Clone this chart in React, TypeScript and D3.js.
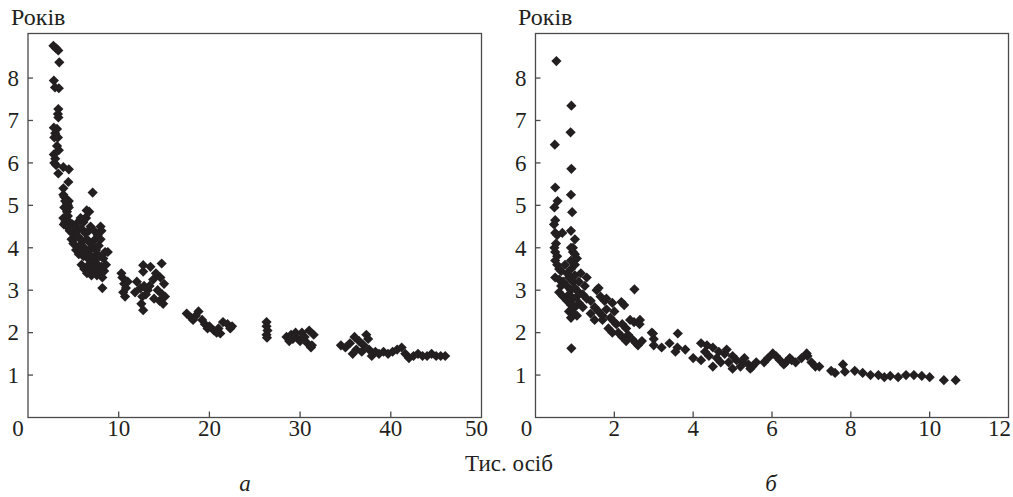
import React from "react";
import * as d3 from "d3";

// Panel а: population (thous.) vs years
const panelA: [number, number][] = [
  [2.8, 8.76], [3.34, 8.65], [3.1, 8.7], [3.45, 8.37], [2.85, 7.94], [2.98, 7.78], [3.4, 7.76],
  [3.34, 7.27], [3.3, 7.15], [3.35, 7.07], [2.85, 6.83], [3.2, 6.8], [3.0, 6.7], [3.3, 6.6], [2.9, 6.6],
  [3.2, 6.4], [3.4, 6.3], [2.85, 6.2], [3.0, 6.1], [2.9, 6.0], [3.1, 5.95], [3.34, 5.75], [3.9, 5.9], [4.5, 5.85],
  [4.45, 5.55], [3.9, 5.4], [4.0, 5.2], [4.2, 5.1], [4.4, 5.0], [4.1, 4.95], [4.3, 4.85], [4.5, 5.1],
  [3.9, 4.7], [3.95, 4.55], [7.13, 5.3], [6.75, 4.85], [6.4, 4.7], [6.47, 4.88],
  [3.9, 5.25], [4.1, 5.1], [4.3, 5.05], [4.0, 4.95], [4.5, 4.95], [4.4, 4.75], [4.1, 4.6], [4.6, 4.6],
  [4.9, 4.55], [4.3, 4.5], [4.7, 4.4], [5.0, 4.35], [5.2, 4.5], [5.5, 4.6], [5.8, 4.7], [5.3, 4.25], [4.8, 4.2],
  [5.4, 4.4], [5.6, 4.25], [5.9, 4.45], [6.1, 4.6], [6.3, 4.35], [6.0, 4.15], [5.7, 4.05], [6.2, 4.0],
  [6.5, 4.2], [6.7, 4.4], [6.9, 4.1], [6.4, 3.9], [6.1, 3.8], [6.6, 3.75], [6.8, 3.95], [7.0, 3.8],
  [7.2, 4.0], [7.4, 4.2], [7.1, 3.6], [7.3, 3.7], [7.6, 3.85], [7.8, 4.05], [8.0, 4.2], [7.5, 3.5],
  [7.7, 3.6], [7.9, 3.4], [8.1, 3.55], [8.3, 3.75], [8.5, 3.9], [8.8, 3.9], [8.2, 3.3], [8.4, 3.45],
  [6.8, 3.5], [7.2, 3.45], [7.6, 3.35], [7.0, 3.35], [8.0, 4.5], [8.1, 4.4], [6.3, 4.7], [4.6, 4.4],
  [5.0, 4.1], [5.3, 3.95], [5.6, 3.85], [5.9, 3.6], [6.2, 3.5], [6.5, 3.4], [8.2, 3.05],
  [7.5, 3.95], [7.9, 3.8], [6.9, 4.5], [7.3, 4.4], [5.8, 3.95], [7.7, 4.3], [8.6, 3.6], [6.7, 3.6],
  [10.4, 3.3], [10.6, 3.15], [10.5, 2.95], [10.8, 3.05], [11.0, 3.2], [10.7, 2.85], [10.3, 3.4],
  [12.7, 3.59], [12.7, 3.44], [14.74, 3.63], [14.1, 3.4], [14.6, 3.3], [15.0, 3.15], [14.3, 3.0],
  [14.8, 2.9], [15.1, 2.85], [14.5, 2.75], [12.0, 3.2], [12.4, 3.05], [12.8, 3.1], [13.2, 3.0],
  [13.0, 2.9], [12.6, 2.85], [12.7, 2.53], [12.5, 2.68], [13.4, 3.1], [14.9, 2.68], [13.5, 3.55],
  [13.8, 3.25], [11.8, 2.95], [13.9, 2.8],
  [17.5, 2.45], [18.0, 2.35], [18.5, 2.4], [18.8, 2.5], [19.2, 2.3], [19.5, 2.2], [20.0, 2.15],
  [20.5, 2.05], [21.0, 2.1], [21.5, 2.25], [22.0, 2.2], [22.3, 2.1], [21.2, 1.98], [20.8, 2.0],
  [19.8, 2.1], [18.2, 2.3], [22.5, 2.15],
  [26.3, 2.25], [26.3, 2.15], [26.4, 2.05], [26.3, 1.95], [26.35, 1.88],
  [28.5, 1.9], [29.0, 1.95], [29.5, 2.0], [29.8, 1.85], [30.2, 2.0], [30.5, 1.9], [30.8, 1.75],
  [31.2, 1.65], [31.0, 2.05], [31.5, 1.95], [30.0, 1.8], [29.2, 1.85], [28.8, 1.8], [31.3, 1.7],
  [34.5, 1.7], [35.0, 1.65], [35.5, 1.75], [35.8, 1.5], [36.2, 1.6], [36.5, 1.8], [37.0, 1.7],
  [37.3, 1.95], [37.6, 1.6], [37.9, 1.45], [38.3, 1.55], [38.7, 1.5], [39.2, 1.55], [39.7, 1.5],
  [40.2, 1.55], [40.7, 1.6], [41.2, 1.65], [41.6, 1.5], [42.0, 1.4], [42.5, 1.45], [43.0, 1.5],
  [43.5, 1.45], [44.0, 1.45], [44.5, 1.5], [45.0, 1.45], [45.5, 1.45], [46.0, 1.45], [36.8, 1.55],
  [37.5, 1.85], [36.0, 1.9],
];

// Panel б
const panelB: [number, number][] = [
  [0.53, 8.4], [0.91, 7.35], [0.89, 6.72], [0.49, 6.43], [0.91, 5.86], [0.5, 5.42], [0.9, 5.25],
  [0.56, 5.1], [0.48, 4.95], [0.93, 4.84], [0.5, 4.65], [0.47, 4.55], [0.5, 4.35], [0.55, 4.3],
  [0.52, 4.1], [0.48, 4.0], [0.5, 3.9], [0.55, 3.8], [0.5, 3.7], [0.55, 3.6], [0.6, 3.5], [0.65, 3.45],
  [0.5, 3.3], [0.6, 3.25], [0.7, 3.2], [0.68, 4.35], [0.9, 4.4], [1.0, 4.2], [0.9, 4.0], [0.95, 3.9],
  [1.0, 3.85], [0.91, 1.63], [2.51, 3.02], [2.18, 2.72], [2.25, 2.65],
  [0.6, 2.95], [0.7, 2.85], [0.65, 3.1],
  [0.75, 3.6], [0.8, 3.4], [0.85, 3.3], [0.9, 3.5], [0.95, 3.2], [1.0, 3.35], [0.8, 3.1], [0.9, 3.0],
  [1.0, 3.05], [1.1, 3.2], [1.15, 3.4], [0.85, 2.9], [0.95, 2.8], [1.05, 2.85], [1.1, 2.95], [0.8, 2.75],
  [0.9, 2.65], [1.0, 2.6], [1.1, 2.7], [1.2, 2.9], [0.85, 2.5], [0.95, 2.45], [1.05, 2.4], [0.9, 2.35],
  [1.2, 2.6], [1.25, 3.1], [1.3, 3.3], [1.3, 2.8], [0.9, 3.7], [1.0, 3.6], [0.95, 4.0], [1.05, 3.75],
  [1.4, 2.75], [1.5, 2.6], [1.6, 2.5], [1.7, 2.4], [1.55, 3.0], [1.6, 3.05], [1.65, 2.85], [1.75, 2.75],
  [1.8, 2.55], [1.9, 2.35], [2.0, 2.25], [1.85, 2.1], [1.95, 2.0], [2.05, 2.2], [1.7, 2.3], [1.8, 2.8],
  [1.95, 2.7], [2.0, 2.5], [1.5, 2.3], [1.4, 2.45],
  [2.1, 2.0], [2.2, 2.2], [2.3, 2.1], [2.35, 1.95], [2.4, 2.3], [2.45, 1.85], [2.55, 1.75], [2.6, 1.7],
  [2.5, 2.25], [2.2, 1.9], [2.3, 1.8], [2.65, 2.3], [2.95, 2.0], [3.0, 1.85],
  [2.64, 2.2], [2.98, 1.98], [2.7, 1.8], [3.0, 1.7], [3.2, 1.65], [3.61, 1.98], [3.4, 1.75], [3.6, 1.65],
  [3.8, 1.6], [3.55, 1.55],
  [4.0, 1.4], [4.2, 1.75], [4.35, 1.7], [4.5, 1.65], [4.3, 1.55], [4.6, 1.4], [4.7, 1.3], [4.5, 1.2],
  [4.2, 1.35], [4.8, 1.5], [4.9, 1.3], [5.0, 1.15], [5.1, 1.35], [5.2, 1.2], [5.3, 1.4], [5.4, 1.25],
  [5.5, 1.2], [5.6, 1.3], [5.0, 1.45], [4.85, 1.6], [4.4, 1.45], [4.65, 1.55], [5.25, 1.3], [5.45, 1.15],
  [6.02, 1.51], [6.88, 1.51], [5.8, 1.3], [5.9, 1.4], [6.1, 1.45], [6.2, 1.35], [6.35, 1.3], [6.5, 1.35],
  [6.6, 1.3], [6.75, 1.4], [6.9, 1.45], [7.0, 1.3], [7.1, 1.2], [7.2, 1.2], [6.3, 1.25], [6.45, 1.4],
  [7.5, 1.1], [7.6, 1.05], [7.8, 1.25], [7.85, 1.08],
  [8.1, 1.1], [8.3, 1.05], [8.5, 1.0], [8.7, 1.0], [8.85, 0.95], [9.0, 0.98], [9.2, 0.95], [9.4, 1.0],
  [9.6, 1.0], [9.8, 0.98], [10.0, 0.95], [10.36, 0.88], [10.66, 0.88],
];

const xTicksA = [0, 10, 20, 30, 40, 50];
const xTicksB = [0, 2, 4, 6, 8, 10, 12];
const yTicks = [1, 2, 3, 4, 5, 6, 7, 8];
const yTitle = "Років";
const xTitle = "Тис. осіб";
const panelLabels = ["а", "б"];

const FONT = "'Liberation Serif', 'Times New Roman', Times, serif";
const INK = "#231f20";
const AXIS = "#4a4a4a";

const yScale = d3.scaleLinear().domain([0, 9.05]).range([417.5, 33.5]);
const diamond = d3.symbol().type(d3.symbolSquare).size(52)();

const txt = (size: number, italic = false): React.CSSProperties => ({
  fontFamily: FONT,
  fontSize: size,
  fontStyle: italic ? "italic" : "normal",
  fill: INK,
});

function Panel({ points, xScale, xTicks, firstDx, lastDx, titleX }: {
  points: [number, number][];
  xScale: d3.ScaleLinear<number, number>;
  xTicks: number[];
  firstDx: number;
  lastDx: number;
  titleX: number;
}) {
  const [x0, x1] = xScale.range();
  const [y0, y1] = yScale.range();
  return (
    <g>
      <text x={titleX} y={25} style={txt(24)}>{yTitle}</text>
      <rect x={x0} y={y1} width={x1 - x0} height={y0 - y1} fill="none" stroke={AXIS} strokeWidth={1.3} />
      {xTicks.map((t, i) => (
        <g key={"x" + t}>
          {i > 0 && i < xTicks.length - 1 && (
            <line x1={xScale(t)} x2={xScale(t)} y1={y0} y2={y0 - 6} stroke={AXIS} strokeWidth={1.3} />
          )}
          <text
            x={xScale(t) + (i === 0 ? firstDx : i === xTicks.length - 1 ? lastDx : 0)}
            y={436}
            textAnchor="middle"
            style={txt(23)}
          >
            {t}
          </text>
        </g>
      ))}
      {yTicks.map((t) => (
        <g key={"y" + t}>
          <line x1={x0} x2={x0 + 5} y1={yScale(t)} y2={yScale(t)} stroke={AXIS} strokeWidth={1.3} />
          <text x={x0 - 9} y={yScale(t)} dy="0.34em" textAnchor="end" style={txt(23)}>
            {t}
          </text>
        </g>
      ))}
      {points.map(([px, py], i) => (
        <path
          key={i}
          d={diamond!}
          transform={`translate(${xScale(px)},${yScale(py)}) rotate(45)`}
          fill={INK}
        />
      ))}
    </g>
  );
}

export default function App() {
  const xA = d3.scaleLinear().domain([0, 50]).range([28, 481.5]);
  const xB = d3.scaleLinear().domain([0, 12]).range([535.5, 1008.5]);
  return (
    <svg
      width={1013}
      height={497}
      style={{ position: "absolute", left: 0, top: 0, background: "#fff" }}
    >
      <rect width={1013} height={497} fill="#fff" />
      <Panel points={panelA} xScale={xA} xTicks={xTicksA} firstDx={-10} lastDx={-5} titleX={11} />
      <Panel points={panelB} xScale={xB} xTicks={xTicksB} firstDx={-9} lastDx={-9} titleX={518} />
      <text x={509} y={471} textAnchor="middle" style={txt(23)}>{xTitle}</text>
      <text x={245} y={491} textAnchor="middle" style={txt(23, true)}>{panelLabels[0]}</text>
      <text x={771} y={491} textAnchor="middle" style={txt(23, true)}>{panelLabels[1]}</text>
    </svg>
  );
}
